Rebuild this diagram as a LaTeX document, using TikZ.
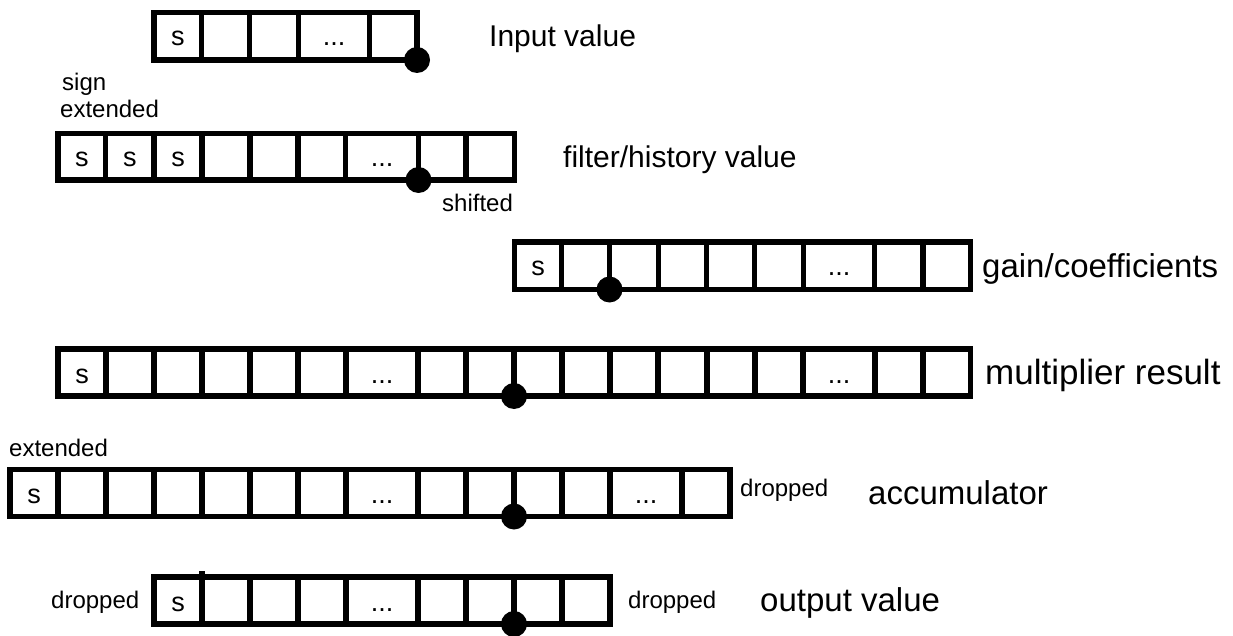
\documentclass[tikz,border=0pt]{standalone}
\usepackage{fontspec}
\setmainfont{Liberation Sans}
\tikzset{
	reg/.style={line width=5.5pt},
	bit/.style={anchor=base, inner sep=0pt, font=\fontsize{27}{27}\selectfont},
	note/.style={anchor=base west, inner sep=0pt, font=\fontsize{24}{24}\selectfont},
	title/.style={anchor=base west, inner sep=0pt, font=\fontsize{33}{33}\selectfont},
	pin/.style={fill=black}
}
\begin{document}
\begin{tikzpicture}[x=1pt, y=-1pt]
	\useasboundingbox (0,0) rectangle (1233,636);

	% input value
	\draw[reg] (154,12.5) rectangle (417,60);
	\foreach \x in {201.5,249.5,298.5,369.5}
		\draw[reg] (\x,12.5) -- (\x,60);
	\node[bit] (in s) at (177.8,46) {s};
	\node[bit] (in dots) at (334,46) {...};
	\fill[pin] (417,60) circle[radius=13];
	\node[title, font=\fontsize{30}{30}\selectfont] (in lbl) at (489,47) {Input value};

	% filter/history value
	\node[note] (sign) at (62,91) {sign};
	\node[note] (sign ext) at (60,118) {extended};
	\draw[reg] (58,133.5) rectangle (514.5,180);
	\foreach \x in {105.5,154,202,250,298,345.5,418.5,466}
		\draw[reg] (\x,133.5) -- (\x,180);
	\foreach \x/\n in {81.8/1,129.8/2,178/3}
		\node[bit] (hist s\n) at (\x,167) {s};
	\node[bit] (hist dots) at (382,167) {...};
	\fill[pin] (418.5,180) circle[radius=13];
	\node[note] (shift) at (442,212) {shifted};
	\node[title, font=\fontsize{30}{30}\selectfont] (hist lbl) at (563,168) {filter/history value};

	% gain/coefficients
	\draw[reg] (514.5,242) rectangle (970.5,289.5);
	\foreach \x in {561.5,609.5,658.5,706.5,754.5,803.5,874.5,923}
		\draw[reg] (\x,242) -- (\x,289.5);
	\node[bit] (gain s) at (538,276) {s};
	\node[bit] (gain dots) at (839,276) {...};
	\fill[pin] (609.5,289.5) circle[radius=13];
	\node[title] (gain lbl) at (982,277) {gain/coefficients};

	% multiplier result
	\draw[reg] (58,349) rectangle (970.5,396);
	\foreach \x in {106,154,202,250,298,346,418,466,514,562,610,658,707,755,803,875,923}
		\draw[reg] (\x,349) -- (\x,396);
	\node[bit] (mul s) at (82,383) {s};
	\node[bit] (mul dots a) at (382,383) {...};
	\node[bit] (mul dots b) at (839,383) {...};
	\fill[pin] (514,396) circle[radius=13];
	\node[title, font=\fontsize{35}{35}\selectfont] (mul lbl) at (985,384) {multiplier result};

	% accumulator
	\node[note] (acc ext) at (9,456) {extended};
	\draw[reg] (10,469.5) rectangle (730,516.5);
	\foreach \x in {58,106,154,202,250,298,346,418,466,514,562,610,682}
		\draw[reg] (\x,469.5) -- (\x,516.5);
	\node[bit] (acc s) at (34,503) {s};
	\node[bit] (acc dots a) at (382,503) {...};
	\node[bit] (acc dots b) at (646,503) {...};
	\fill[pin] (514,516.5) circle[radius=13];
	\node[note] (acc drop) at (740,496) {dropped};
	\node[title] (acc lbl) at (868,504) {accumulator};

	% output value
	\draw[reg] (154,577) rectangle (610,624);
	\draw[reg] (202,571) -- (202,624);
	\foreach \x in {250,298,346,418,466,514,562}
		\draw[reg] (\x,577) -- (\x,624);
	\node[bit] (out s) at (178,611) {s};
	\node[bit] (out dots) at (382,611) {...};
	\fill[pin] (514,624) circle[radius=13];
	\node[note] (out drop l) at (51,608) {dropped};
	\node[note] (out drop r) at (628,608) {dropped};
	\node[title] (out lbl) at (760,611) {output value};
\end{tikzpicture}
\end{document}
